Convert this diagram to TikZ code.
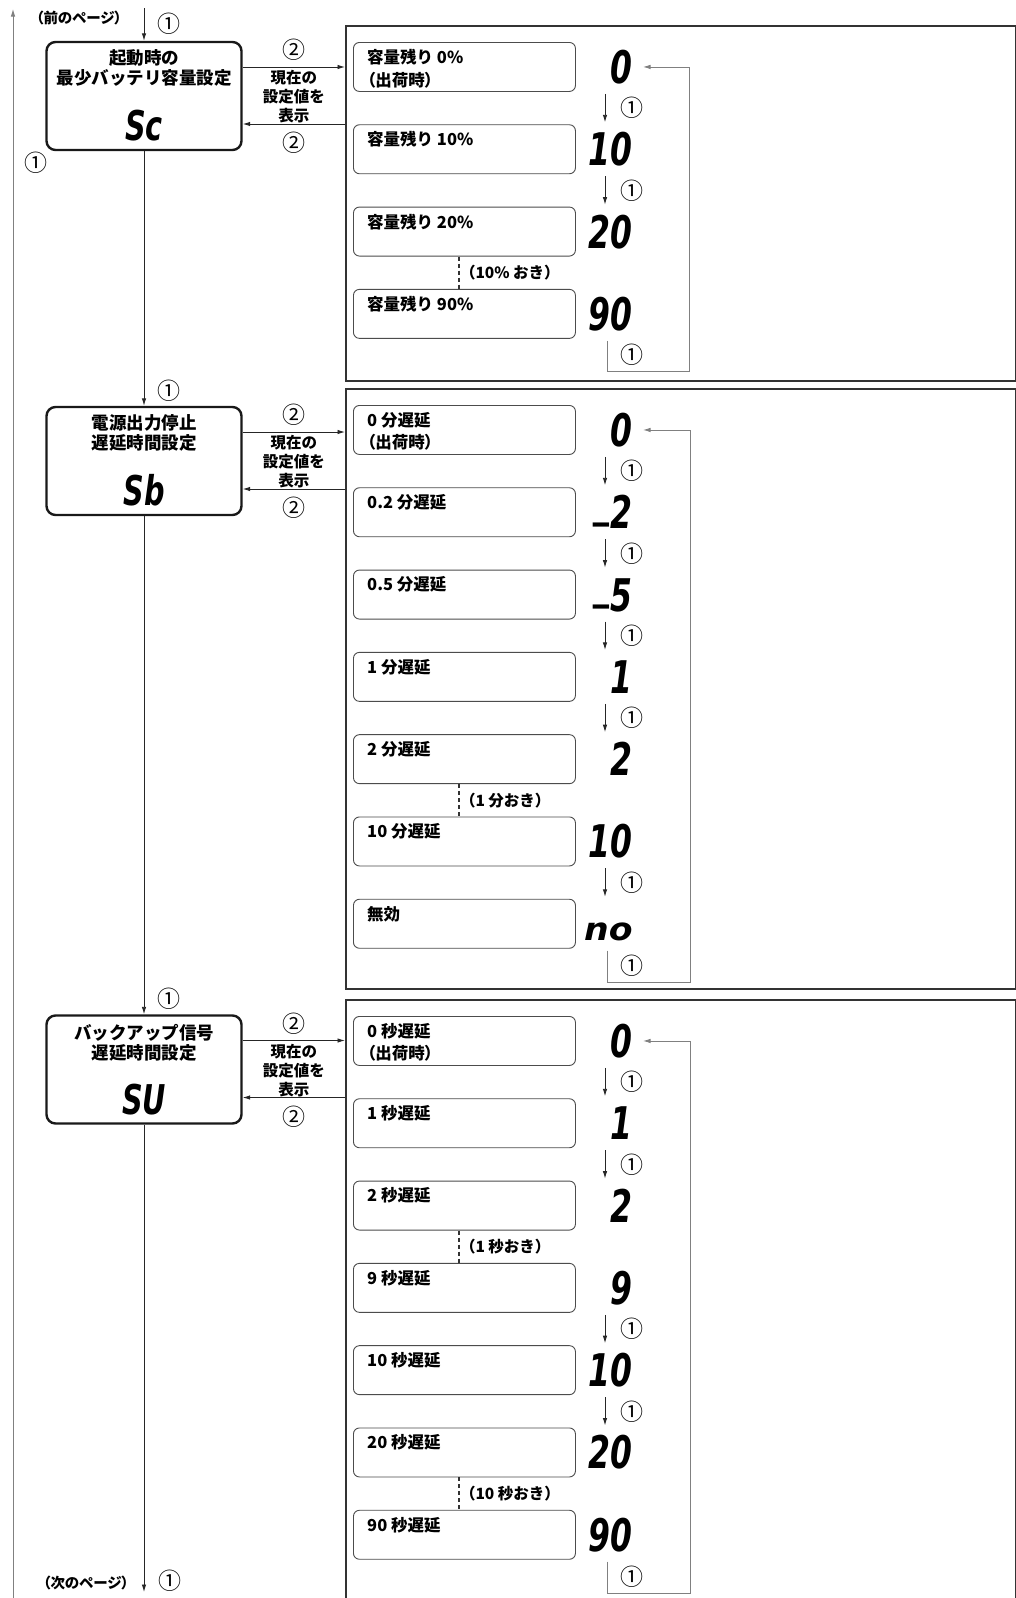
\documentclass[tikz,border=0pt]{standalone}
\usepackage{fontspec}
\usepackage{graphicx}
\setmainfont{Noto Sans CJK JP}
\newfontfamily\paltfont{Noto Sans CJK JP}[RawFeature=+palt]
\newfontfamily\segfont{DejaVu Sans}
\usetikzlibrary{arrows.meta,calc}
\newcommand\sg[1]{\scalebox{0.7}[1]{#1}}
\newcommand\segbar{\raisebox{0.27em}{\_}\kern0.06em}
\newcommand\pl[1]{{\paltfont #1}}
\tikzset{
 titlebox/.style={draw=black!90, line width=2.4pt, rounded corners=9pt, minimum width=195pt, minimum height=108pt, inner sep=0pt},
 optbox/.style={draw=black!70, line width=0.9pt, rounded corners=6pt, minimum width=222pt, minimum height=49pt, inner sep=0pt, anchor=north west},
 panelbox/.style={draw=black!80, line width=2pt, inner sep=0pt, anchor=north west, minimum width=670pt},
 ln/.style={draw=black!85, line width=0.9pt},
 arr/.style={ln, -{Latex[length=7.5pt,width=4.5pt]}},
 grayln/.style={draw=black!50, line width=0.9pt},
 grayarr/.style={grayln, -{Latex[length=7.5pt,width=4.5pt]}},
 dashln/.style={draw=black!80, line width=2pt, dash pattern=on 4pt off 3pt},
 segbig/.style={font=\segfont\bfseries\itshape\fontsize{45}{45}\selectfont, inner sep=0pt, anchor=base east},
 segtitle/.style={font=\segfont\bfseries\itshape\fontsize{41}{41}\selectfont, inner sep=0pt, anchor=base},
 titletxt/.style={font=\bfseries\fontsize{17.5}{20}\selectfont, align=center, inner sep=0pt, anchor=north},
 opttxt/.style={font=\bfseries\fontsize{16.5}{22.5}\selectfont, align=left, inner sep=0pt, anchor=north west},
 circ/.style={font=\fontsize{23}{23}\selectfont, inner sep=0pt},
 notetxt/.style={font=\bfseries\fontsize{15.5}{19}\selectfont, align=center, inner sep=0pt},
 steptxt/.style={font=\bfseries\fontsize{15.5}{15.5}\selectfont, inner sep=0pt, anchor=west},
 pagetxt/.style={font=\paltfont\bfseries\fontsize{14.5}{14.5}\selectfont, inner sep=0pt},
}
\newcommand\optitem[5]{%
 \node[optbox] (#1o#2) at (353,#3) {};
 \node[opttxt] (#1t#2) at ($(#1o#2.north west)+(14,7)$) {#4};
 \node[segbig] (#1d#2) at ($(#1o#2.east)+(57,16.5)$) {\sg{#5}};
}
\newcommand\nextstep[3]{%
 \draw[arr, shorten <=2pt, shorten >=2pt] (#1o#2.south -| colx) -- (#1o#3.north -| colx) node[midway, circ, xshift=27pt] (#1c#2) {①};
}
\newcommand\skipstep[4]{%
 \draw[dashln] (#1o#2.south -| dashx) -- (#1o#3.north -| dashx) node[midway, steptxt, xshift=0pt] (#1s#2) {#4};
}
\newcommand\link[2]{%
 \coordinate (#1r) at ($(#1.east)+(0,-29)$);
 \coordinate (#1l) at ($(#1.east)+(0,28)$);
 \draw[arr] (#1r) -- (#1r -| #2.west) node[midway, circ, yshift=17pt] (#1ca) {②} node[midway, notetxt, anchor=north, yshift=-3pt] (#1n) {現在の\\設定値を\\表示};
 \draw[arr] (#1l -| #2.west) -- (#1l) node[midway, circ, yshift=-19pt] (#1cb) {②};
}
\begin{document}
\begin{tikzpicture}[x=1pt,y=-1pt]
\fill[white] (0,0) rectangle (1016,1598);
\useasboundingbox (0,0) rectangle (1016,1598);
\coordinate (colx) at (605,0);
\coordinate (dashx) at (459,0);
\coordinate (loopa) at (607,0);
\coordinate (tipx) at (643,0);

% panels
\node[panelbox, minimum height=355pt] (P1) at (345,25) {};
\node[panelbox, minimum height=600pt] (P2) at (345,388) {};
\node[panelbox, minimum height=630pt] (P3) at (345,999) {};

% title boxes
\node[titlebox] (T1) at (144,96) {};
\node[titletxt] (T1a) at ($(T1.north)+(0,9)$) {起動時の\\最少バッテリ容量設定};
\node[segtitle] (T1s) at ($(T1.north)+(0,100)$) {\sg{Sc}};
\node[titlebox] (T2) at (144,461) {};
\node[titletxt] (T2a) at ($(T2.north)+(0,9)$) {電源出力停止\\遅延時間設定};
\node[segtitle] (T2s) at ($(T2.north)+(0,100)$) {\sg{Sb}};
\node[titlebox] (T3) at (144,1069.5) {};
\node[titletxt] (T3a) at ($(T3.north)+(0,10)$) {バックアップ信号\\遅延時間設定};
\node[segtitle] (T3s) at ($(T3.north)+(0,100)$) {\sg{SU}};

\link{T1}{P1}
\link{T2}{P2}
\link{T3}{P3}

% main flow
\coordinate (mtop) at (144,8);
\coordinate (mbot) at (144,1592);
\draw[arr] (mtop) -- (T1.north);
\node[circ] (c1a) at (169,24) {①};
\draw[arr] (T1.south) -- (T2.north);
\node[circ] (c1b) at ($(T2.north)+(25,-15)$) {①};
\draw[arr] (T2.south) -- (T3.north);
\node[circ] (c1c) at ($(T3.north)+(25,-16)$) {①};
\draw[arr] (T3.south) -- (mbot);
\node[circ] (c1d) at (170,1581) {①};
\node[pagetxt] (prev) at (79,18) {（前のページ）};
\node[pagetxt] (next) at (86,1583) {（次のページ）};

% back line on the left
\coordinate (lbot) at (13,1600);
\coordinate (ltop) at (13,9);
\draw[grayarr] (lbot) -- (ltop);
\node[circ] (c1l) at (36,163) {①};

% panel 1
\optitem{p1}{0}{42}{容量残り 0\%\\\pl{（出荷時）}}{0}
\optitem{p1}{1}{124.3}{容量残り 10\%}{10}
\optitem{p1}{2}{206.6}{容量残り 20\%}{20}
\optitem{p1}{3}{288.9}{容量残り 90\%}{90}
\nextstep{p1}{0}{1}
\nextstep{p1}{1}{2}
\skipstep{p1}{2}{3}{（10\% おき）}
\coordinate (P1c) at (689,371);
\draw[grayarr, shorten <=2pt] (p1o3.south -| loopa) |- (P1c) node[pos=0.25, circ, xshift=25pt] (p1lc) {①} |- (p1o0.east -| tipx);

% panel 2
\optitem{p2}{0}{405}{0 分遅延\\\pl{（出荷時）}}{0}
\optitem{p2}{1}{487.3}{0.2 分遅延}{\segbar 2}
\optitem{p2}{2}{569.6}{0.5 分遅延}{\segbar 5}
\optitem{p2}{3}{651.9}{1 分遅延}{1}
\optitem{p2}{4}{734.2}{2 分遅延}{2}
\optitem{p2}{5}{816.5}{10 分遅延}{10}
\optitem{p2}{6}{898.8}{無効}{\scalebox{1.1}[0.7]{no}}
\nextstep{p2}{0}{1}
\nextstep{p2}{1}{2}
\nextstep{p2}{2}{3}
\nextstep{p2}{3}{4}
\skipstep{p2}{4}{5}{（1 分おき）}
\nextstep{p2}{5}{6}
\coordinate (P2c) at (690,982);
\draw[grayarr, shorten <=2pt] (p2o6.south -| loopa) |- (P2c) node[pos=0.25, circ, xshift=25pt] (p2lc) {①} |- (p2o0.east -| tipx);

% panel 3
\optitem{p3}{0}{1016}{0 秒遅延\\\pl{（出荷時）}}{0}
\optitem{p3}{1}{1098.3}{1 秒遅延}{1}
\optitem{p3}{2}{1180.6}{2 秒遅延}{2}
\optitem{p3}{3}{1262.9}{9 秒遅延}{9}
\optitem{p3}{4}{1345.2}{10 秒遅延}{10}
\optitem{p3}{5}{1427.5}{20 秒遅延}{20}
\optitem{p3}{6}{1509.8}{90 秒遅延}{90}
\nextstep{p3}{0}{1}
\nextstep{p3}{1}{2}
\skipstep{p3}{2}{3}{（1 秒おき）}
\nextstep{p3}{3}{4}
\nextstep{p3}{4}{5}
\skipstep{p3}{5}{6}{（10 秒おき）}
\coordinate (P3c) at (690,1593);
\draw[grayarr, shorten <=2pt] (p3o6.south -| loopa) |- (P3c) node[pos=0.25, circ, xshift=25pt] (p3lc) {①} |- (p3o0.east -| tipx);
\end{tikzpicture}
\end{document}
